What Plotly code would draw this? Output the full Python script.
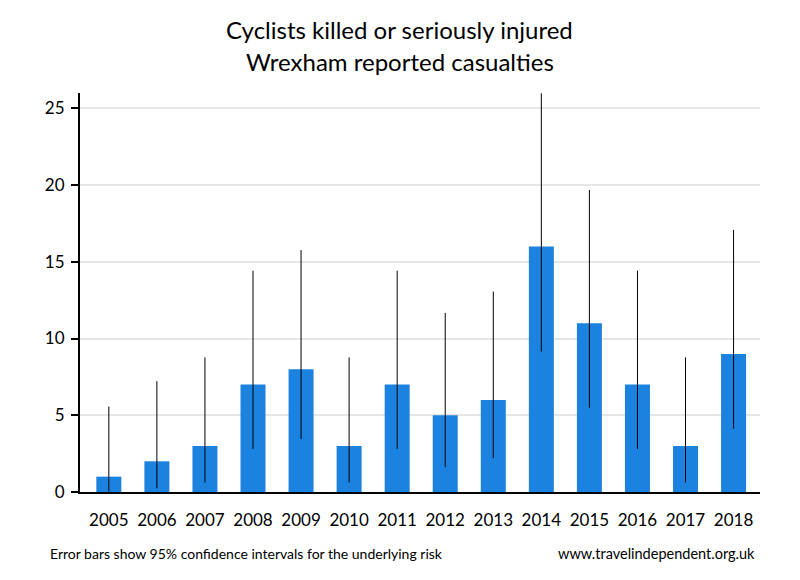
import plotly.graph_objects as go

years = ["2005", "2006", "2007", "2008", "2009", "2010", "2011",
         "2012", "2013", "2014", "2015", "2016", "2017", "2018"]
casualties = [1, 2, 3, 7, 8, 3, 7, 5, 6, 16, 11, 7, 3, 9]
ci_lower = [0.03, 0.24, 0.62, 2.81, 3.45, 0.62, 2.81, 1.62, 2.2, 9.15, 5.49, 2.81, 0.62, 4.12]
ci_upper = [5.57, 7.22, 8.77, 14.42, 15.76, 8.77, 14.42, 11.67, 13.06, 25.98, 19.68, 14.42, 8.77, 17.08]
title_lines = ["Cyclists killed or seriously injured", "Wrexham reported casualties"]

err_plus = [u - v for u, v in zip(ci_upper, casualties)]
err_minus = [v - l for v, l in zip(casualties, ci_lower)]

font_family = "Lato, 'Open Sans', sans-serif"

fig = go.Figure()
fig.add_trace(go.Bar(
    x=years, y=casualties,
    marker=dict(color="#1b82e0", line=dict(width=0)),
    error_y=dict(type="data", symmetric=False, array=err_plus, arrayminus=err_minus,
                 color="black", thickness=1, width=0),
    showlegend=False,
))

fig.update_layout(
    width=800, height=580,
    paper_bgcolor="white", plot_bgcolor="white",
    margin=dict(l=72, r=48, t=85, b=96),
    bargap=0.48,
    font=dict(family=font_family, color="black"),
    xaxis=dict(showgrid=False, showline=True, linecolor="black", linewidth=2,
               ticks="", tickfont=dict(size=17), ticklabelstandoff=12,
               range=[-0.6, 13.55]),
    yaxis=dict(range=[0, 26], tickvals=[0, 5, 10, 15, 20, 25], showgrid=True,
               gridcolor="#e6e6e6", gridwidth=2, showline=True, linecolor="black",
               linewidth=2, ticks="outside", ticklen=7, tickwidth=1.5, tickcolor="black",
               tickfont=dict(size=17), ticklabelstandoff=3, zeroline=False),
    annotations=[
        dict(text=title_lines[0], xref="paper", yref="paper", x=0.47, y=1.158,
             xanchor="center", yanchor="middle", showarrow=False,
             font=dict(family=font_family, size=24, color="black")),
        dict(text=title_lines[1], xref="paper", yref="paper", x=0.47, y=1.078,
             xanchor="center", yanchor="middle", showarrow=False,
             font=dict(family=font_family, size=24, color="black")),
        dict(text="Error bars show 95% confidence intervals for the underlying risk",
             xref="paper", yref="paper", x=-0.047, y=-0.153, xanchor="left", yanchor="middle",
             showarrow=False, font=dict(family=font_family, size=14, color="black")),
        dict(text="www.travelindependent.org.uk",
             xref="paper", yref="paper", x=0.996, y=-0.153, xanchor="right", yanchor="middle",
             showarrow=False, font=dict(family=font_family, size=14.5, color="black")),
    ],
)

fig.write_html("out.html")
